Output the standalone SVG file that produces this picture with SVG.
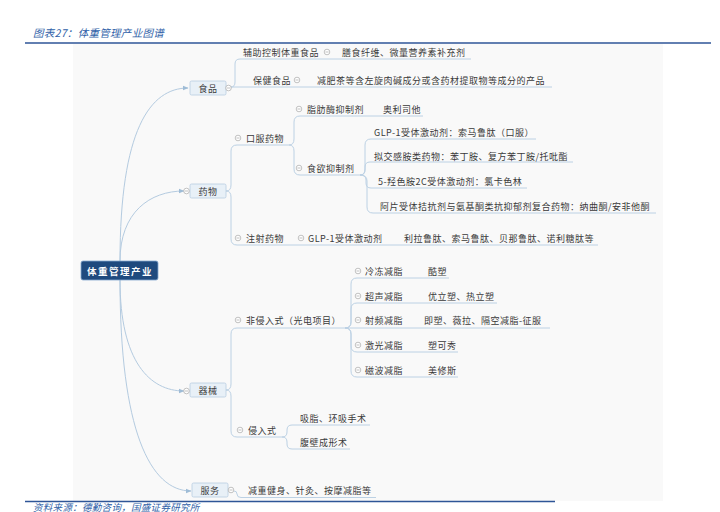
<svg xmlns="http://www.w3.org/2000/svg" width="720" height="512" viewBox="0 0 720 512">
<style>
text{font-family:"Noto Sans CJK SC","Noto Sans",sans-serif;font-size:9px;fill:#3a3a3a;dominant-baseline:central;letter-spacing:0.5px}
.cap{fill:#2f5fa8;font-style:italic;font-size:10.5px;letter-spacing:0.3px}
.root{fill:#ffffff;font-weight:bold;font-size:9.5px;letter-spacing:1.5px}
.mid{text-anchor:middle}
.box{fill:#e8f0f7;stroke:#b7cde1;stroke-width:0.8}
.ln{fill:none;stroke:#bcd1e4;stroke-width:1}
.main{fill:none;stroke:#b4cbe0;stroke-width:1}
.rule{stroke:#2e5597;stroke-width:1.4}
</style>
<defs>
<marker id="ar" viewBox="0 0 6 6" refX="5.5" refY="3" markerWidth="6" markerHeight="6" markerUnits="userSpaceOnUse" orient="auto">
<path d="M0,0.5 L6,3 L0,5.5 Z" fill="#9fbcd6"/>
</marker>
<g id="mn">
<circle r="2.8" fill="#ffffff" stroke="#a8a8a8" stroke-width="0.7"/>
<line x1="-1.6" y1="0" x2="1.6" y2="0" stroke="#a8a8a8" stroke-width="0.7"/>
</g>
</defs>

<rect x="0" y="0" width="720" height="512" fill="#ffffff"/>
<rect x="73" y="44" width="590" height="457" fill="#f9f9f9"/>
<text class="cap" x="33" y="32">图表27：体重管理产业图谱</text>
<line class="rule" x1="25" y1="43" x2="711" y2="43"/>
<line class="rule" x1="25" y1="501.5" x2="555" y2="501.5"/>
<text class="cap" x="33" y="506.5" style="font-size:9.5px">资料来源：德勤咨询，国盛证券研究所</text>

<g id="connectors">
<path class="main" d="M120,261 C120,130 150,88 188,88" marker-end="url(#ar)"/>
<path class="main" d="M120,261 C120,212 150,191 184,191" marker-end="url(#ar)"/>
<path class="main" d="M120,280 C120,362 150,391 184,391" marker-end="url(#ar)"/>
<path class="main" d="M120,280 C120,430 150,491 191,491" marker-end="url(#ar)"/>

<path class="ln" d="M231,87 L552,87"/>
<path class="ln" d="M231,87 Q235,87 235,82 L235,64 Q235,59 240,59 L471,59"/>

<path class="ln" d="M226,191 Q231,191 231,185 L231,151 Q231,145 237,145 L289,145"/>
<path class="ln" d="M226,191 Q231,191 231,197 L231,239 Q231,245 237,245 L598,245"/>
<path class="ln" d="M289,145 Q294,145 294,139 L294,122 Q294,116 300,116 L423,116"/>
<path class="ln" d="M289,145 Q294,145 294,151 L294,169 Q294,175 300,175 L360,175"/>
<path class="ln" d="M360,175 Q365,175 365,169 L365,145 Q365,139 371,139 L536,139"/>
<path class="ln" d="M360,175 Q365,175 365,170 L365,167 Q365,162 370,162 L573,162"/>
<path class="ln" d="M360,175 Q366,175 366,180 L366,183 Q366,188 371,188 L527,188"/>
<path class="ln" d="M360,175 Q367,175 367,181 L367,207 Q367,213 373,213 L656,213"/>

<path class="ln" d="M226,390 Q231,390 231,384 L231,334 Q231,328 237,328 L345,328"/>
<path class="ln" d="M226,390 Q231,390 231,396 L231,431 Q231,437 237,437 L282,437"/>
<path class="ln" d="M345,328 Q351,328 351,322 L351,284 Q351,278 357,278 L449,278"/>
<path class="ln" d="M345,328 Q351,328 351,322 L351,309 Q351,303 357,303 L497,303"/>
<path class="ln" d="M345,328 L550,328"/>
<path class="ln" d="M345,328 Q351,328 351,334 L351,346 Q351,352 357,352 L458,352"/>
<path class="ln" d="M345,328 Q351,328 351,334 L351,371 Q351,377 357,377 L458,377"/>
<path class="ln" d="M282,437 Q287,437 287,432 L287,430 Q287,425 292,425 L370,425"/>
<path class="ln" d="M282,437 Q287,437 287,442 L287,444 Q287,449 292,449 L350,449"/>

<path class="ln" d="M234,491 Q237,491 237,494 Q237,497.5 241,497.5 L376,497.5"/>
</g>

<g id="root">
<rect x="81" y="261" width="77" height="19" rx="2" fill="#1f4a7e" stroke="#86a8cf" stroke-width="0.8"/>
<text class="root mid" x="120" y="271">体重管理产业</text>
</g>

<g id="food">
<rect class="box" x="190" y="81" width="36" height="14" rx="1.5"/>
<text class="mid" x="208" y="88">食品</text>
<use href="#mn" x="228.5" y="88"/>
</g>
<g id="food-aux">
<text x="243" y="52">辅助控制体重食品</text>
<use href="#mn" x="327" y="52"/>
<text x="342" y="52">膳食纤维、微量营养素补充剂</text>
</g>
<g id="food-health">
<text x="253" y="80">保健食品</text>
<use href="#mn" x="297" y="80"/>
<text x="317" y="80">减肥茶等含左旋肉碱成分或含药材提取物等成分的产品</text>
</g>

<g id="drug">
<rect class="box" x="190" y="184" width="36" height="14" rx="1.5"/>
<text class="mid" x="208" y="191">药物</text>
<use href="#mn" x="186.5" y="191"/>
</g>
<g id="drug-oral">
<use href="#mn" x="238" y="138"/>
<text x="246" y="138">口服药物</text>
</g>
<g id="drug-lipase">
<use href="#mn" x="299" y="109"/>
<text x="307" y="109">脂肪酶抑制剂</text>
<text x="383" y="109">奥利司他</text>
</g>
<g id="drug-appetite">
<use href="#mn" x="299" y="168"/>
<text x="307" y="168">食欲抑制剂</text>
</g>
<g id="drug-a1"><text x="374" y="132">GLP-1受体激动剂：索马鲁肽（口服）</text></g>
<g id="drug-a2"><text x="374" y="156">拟交感胺类药物：苯丁胺、复方苯丁胺/托吡酯</text></g>
<g id="drug-a3"><text x="378" y="181">5-羟色胺2C受体激动剂：氯卡色林</text></g>
<g id="drug-a4"><text x="380" y="206">阿片受体拮抗剂与氨基酮类抗抑郁剂复合药物：纳曲酮/安非他酮</text></g>
<g id="drug-inject">
<use href="#mn" x="238" y="238"/>
<text x="246" y="238">注射药物</text>
<use href="#mn" x="301" y="238"/>
<text x="308" y="238">GLP-1受体激动剂</text>
<text x="404" y="238">利拉鲁肽、索马鲁肽、贝那鲁肽、诺利糖肽等</text>
</g>

<g id="device">
<rect class="box" x="190" y="383" width="36" height="14" rx="1.5"/>
<text class="mid" x="208" y="390">器械</text>
<use href="#mn" x="186.5" y="391"/>
</g>
<g id="device-noninv">
<use href="#mn" x="238" y="320"/>
<text x="246" y="320">非侵入式（光电项目）</text>
</g>
<g id="dev-1"><use href="#mn" x="358" y="271"/><text x="365" y="271">冷冻减脂</text><text x="428" y="271">酷塑</text></g>
<g id="dev-2"><use href="#mn" x="358" y="296"/><text x="365" y="296">超声减脂</text><text x="428" y="296">优立塑、热立塑</text></g>
<g id="dev-3"><use href="#mn" x="358" y="320"/><text x="365" y="320">射频减脂</text><text x="424" y="320">即塑、薇拉、隔空减脂-征服</text></g>
<g id="dev-4"><use href="#mn" x="358" y="345"/><text x="365" y="345">激光减脂</text><text x="428" y="345">塑可秀</text></g>
<g id="dev-5"><use href="#mn" x="358" y="370"/><text x="365" y="370">磁波减脂</text><text x="428" y="370">美修斯</text></g>
<g id="device-inv">
<use href="#mn" x="240" y="430"/>
<text x="248" y="430">侵入式</text>
</g>
<g id="inv-1"><text x="300" y="418">吸脂、环吸手术</text></g>
<g id="inv-2"><text x="300" y="442">腹壁成形术</text></g>

<g id="service">
<rect class="box" x="192" y="483" width="36" height="14" rx="1.5"/>
<text class="mid" x="210" y="490">服务</text>
<use href="#mn" x="231" y="490"/>
<text x="248" y="490">减重健身、针灸、按摩减脂等</text>
</g>
</svg>
